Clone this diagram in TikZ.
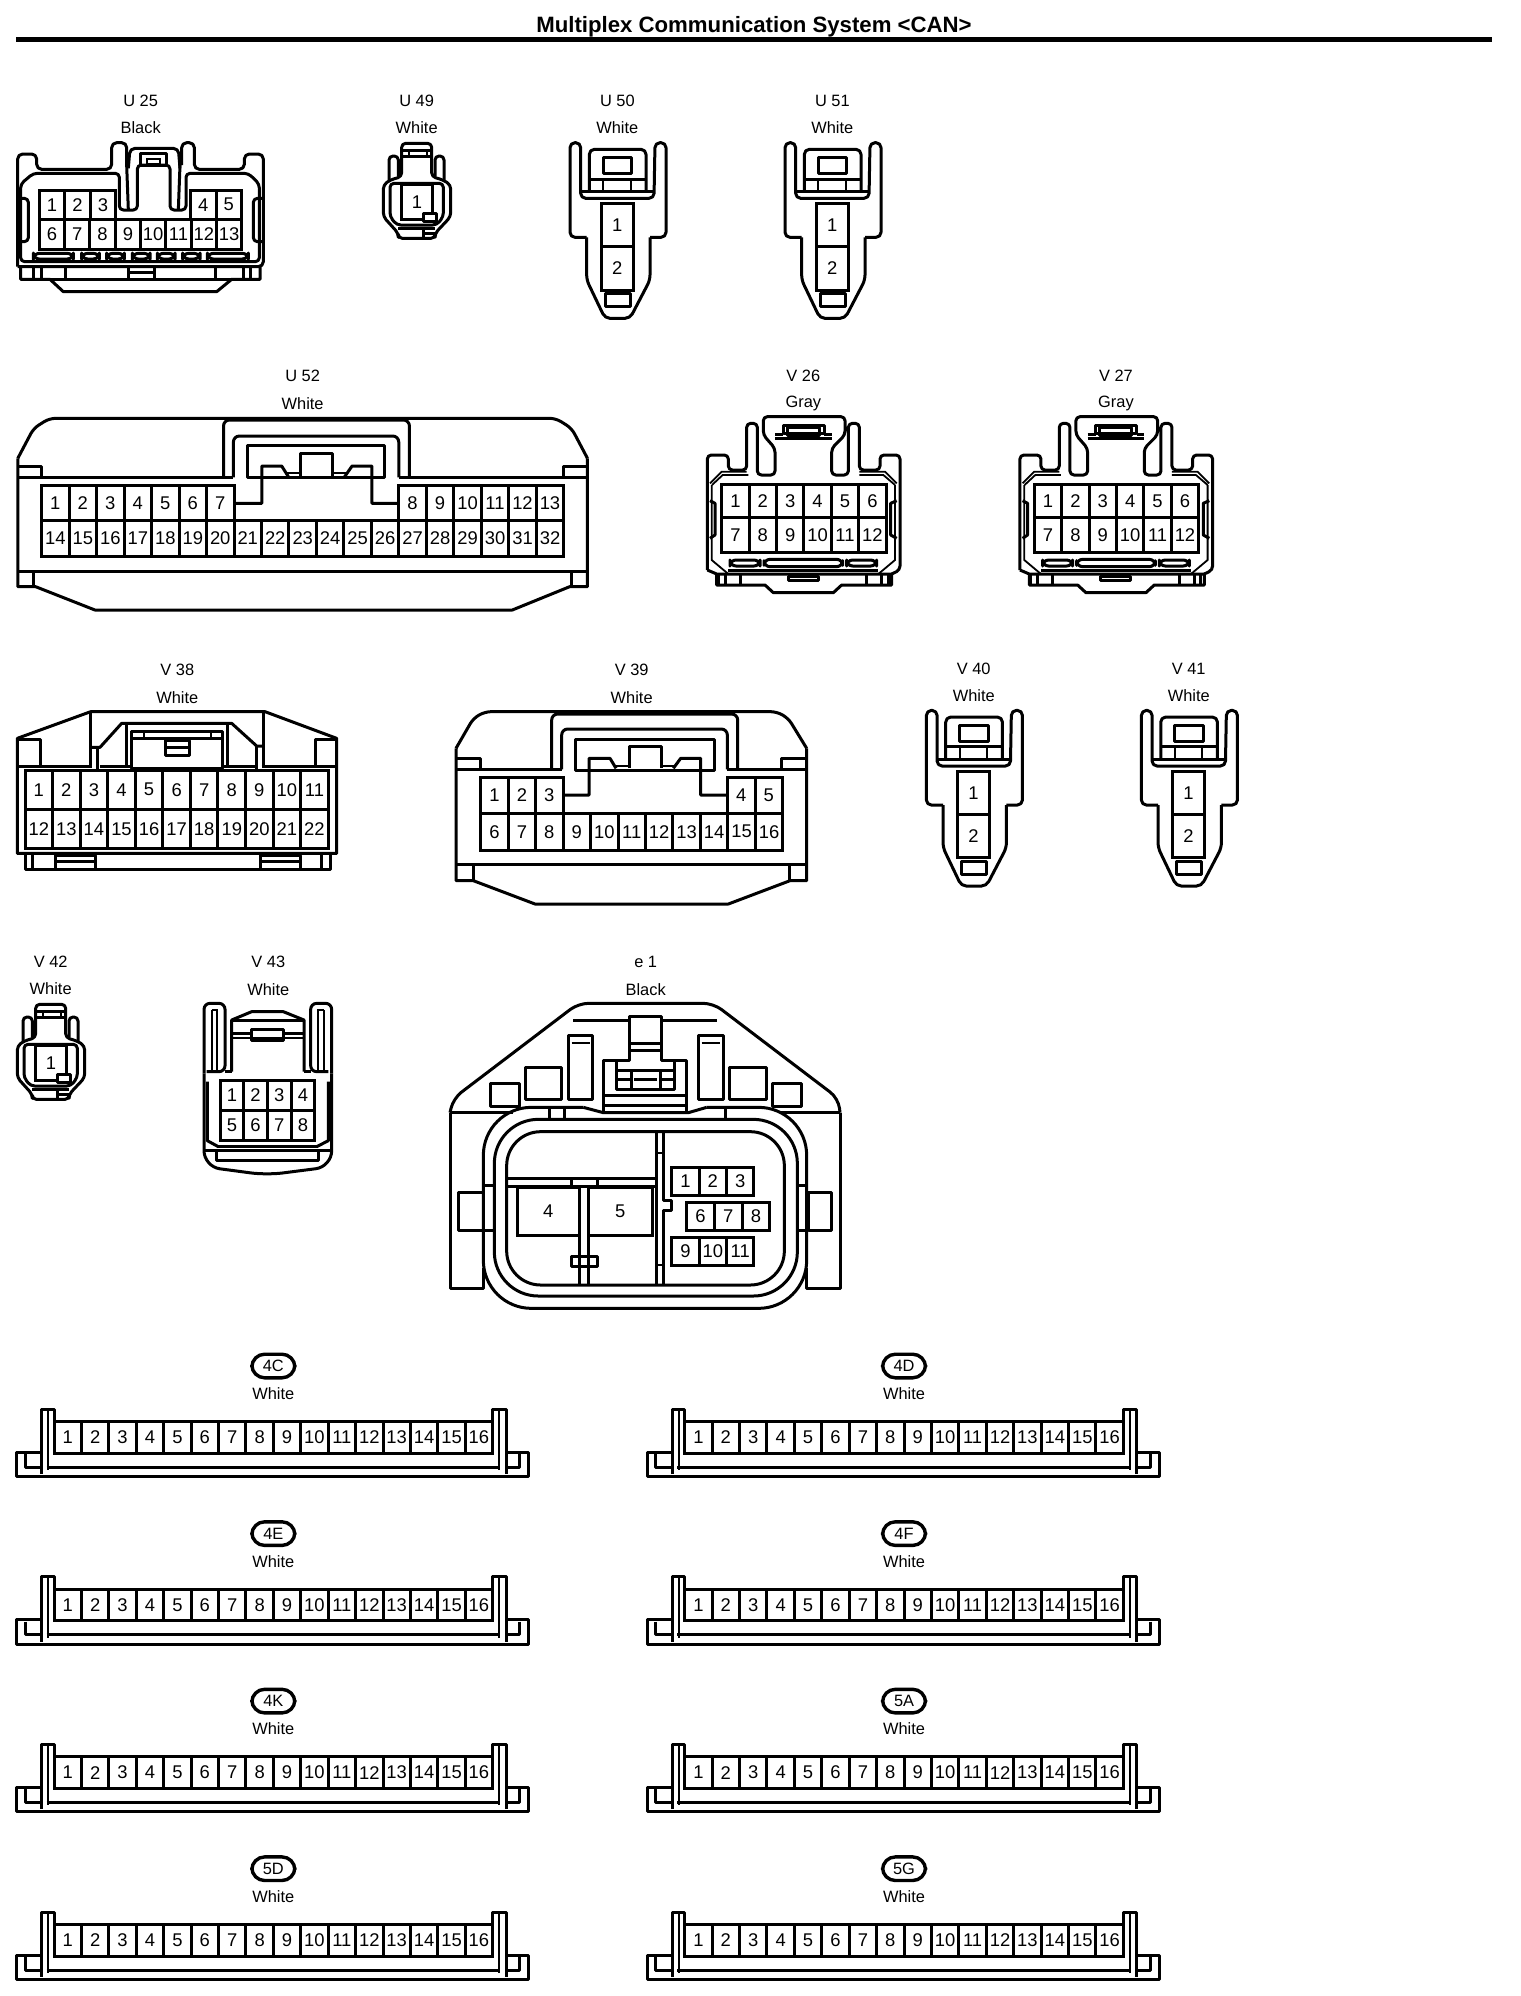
\documentclass[tikz,border=0pt]{standalone}
\usepackage{fontspec}
\setmainfont{Liberation Sans}
\usetikzlibrary{positioning}

\tikzset{
  shell/.style={line width=1.5pt, line join=round},
  fine/.style={line width=.9pt},
  cavity/.style={draw, line width=1.5pt, inner sep=0pt, font=\fontsize{9.2}{10}\selectfont},
  tag/.style={inner sep=0pt, font=\fontsize{8.2}{10}\selectfont},
  pill/.style={draw, line width=1.7pt, inner sep=0pt, rounded corners=6.4pt,
    minimum width=21.5pt, minimum height=11.8pt, font=\fontsize{8.2}{10}\selectfont},
  zoomunit/.code={\def\zoomu{#1}\def\zoomv{#1}\tikzset{x=#1pt,y=-#1pt}},
  zoomwide/.code={\def\zoomu{#1}\tikzset{x=#1pt}}
}

% name, x, y, cell width, cell height, first number, last number
\newcommand{\cavities}[7]{
  \foreach \n [count=\k from 0] in {#6,...,#7}
    \node[cavity, minimum width=#4*\zoomu pt, minimum height=#5*\zoomv pt]
      (#1-\n) at ({#2+#4*\k+#4/2},{#3+#5/2}) {\n};
}
% name, x, y, text, colour
\newcommand{\tags}[5]{
  \node[tag] (#1-id) at (#2,#3) {#4};
  \node[tag, below=13.7pt of #1-id.center, anchor=center] (#1-col) {#5};
}

% one cavity
\newcommand{\connone}[5]{
  \begin{scope}[shift={(#4,#5)},zoomunit=.16667]
    \tags{#1}{1250}{92}{#2}{#3}
    \draw[shell, rounded corners=2pt] (1205,320) -- (1205,220) -- (1295,220) -- (1295,320) -- (1330,330)
      -- (1352,345) -- (1352,440) -- (1305,490) -- (1305,505) -- (1195,505) -- (1195,490) -- (1150,440)
      -- (1150,345) -- (1170,330) -- cycle;
    \draw[shell, rounded corners=2pt] (1167,335) -- (1167,258) -- (1195,258) -- (1195,320);
    \draw[shell, rounded corners=2pt] (1305,320) -- (1305,258) -- (1332,258) -- (1332,335);
    \draw[shell] (1205,240) -- (1295,240) (1205,258) -- (1295,258);
    \draw[fine] (1228,240) -- (1228,258) (1280,240) -- (1280,258);
    \draw[shell, rounded corners=2pt] (1170,340) -- (1330,340) -- (1330,440) -- (1310,465) -- (1190,465)
      -- (1170,440) -- cycle;
    \node[cavity, minimum width=15.3pt, minimum height=17.5pt] (#1-1) at (1251,397) {1};
    \node[draw, shell, fill=white, inner sep=0pt, minimum width=6.6pt, minimum height=3.8pt] (#1-lock)
      at (1290,443) {};
    \draw[shell] (1195,475) -- (1305,475) (1270,475) -- (1270,505) (1270,490) -- (1305,490);
  \end{scope}
}

% two cavities
\newcommand{\conntwo}[5]{
  \begin{scope}[shift={(#4,#5)},zoomunit=.16667]
    \tags{#1}{232}{62}{#2}{#3}
    \draw[shell, rounded corners=2.5pt] (140,472) -- (90,472) -- (90,188) -- (122,188) -- (122,355)
      -- (342,355) -- (345,188) -- (378,188) -- (378,472) -- (330,472);
    \draw[shell, rounded corners=2.5pt] (140,472) -- (140,600) -- (195,715) -- (270,715) -- (330,600) -- (330,472);
    \draw[shell, rounded corners=2.5pt] (148,335) -- (148,208) -- (318,208) -- (318,335);
    \draw[shell] (122,335) -- (342,335) (148,297) -- (318,297);
    \draw[fine] (190,297) -- (190,335) (272,297) -- (272,335);
    \draw[shell] (190,232) rectangle (275,280);
    \cavities{#1}{183}{370}{97}{130}{1}{1}
    \cavities{#1}{183}{500}{97}{130}{2}{2}
    \draw[shell] (195,640) rectangle (270,680);
  \end{scope}
}

% twelve cavities
\newcommand{\conntwelve}[5]{
  \begin{scope}[shift={(#4,#5)},zoomunit=.16667]
    \tags{#1}{310}{18}{#2}{#3}
    \draw[shell, rounded corners=2pt] (22,600) -- (22,255) -- (85,255) -- (85,300) -- (140,300) -- (140,160)
      -- (172,160) -- (172,315) -- (225,315) -- (225,235) -- (190,195) -- (190,140) -- (435,140) -- (435,195)
      -- (395,235) -- (395,315) -- (445,315) -- (445,160) -- (478,160) -- (478,300) -- (540,300) -- (540,255)
      -- (600,255) -- (600,600) -- (575,612);
    \draw[shell] (22,600) -- (50,612) -- (50,645) -- (195,645) -- (220,668) -- (400,668) -- (425,645)
      -- (575,645) -- (575,612) -- (50,612);
    \draw[shell] (225,205) -- (395,205) (225,192) -- (250,192) (372,192) -- (395,192);
    \draw[shell] (250,165) rectangle (372,190);
    \draw[shell] (262,172) rectangle (358,197);
    \draw[fine] (30,340) -- (65,305) -- (140,305) (36,345) -- (68,315) -- (145,315)
      (478,305) -- (555,305) -- (590,340) (478,315) -- (550,315) -- (585,345);
    \draw[fine] (35,345) -- (35,570) -- (85,612) (585,345) -- (585,570) -- (535,612);
    \draw[shell] (30,392) -- (45,400) -- (45,495) -- (30,505) (590,392) -- (572,400) -- (572,495) -- (590,505);
    \cavities{#1}{65}{343}{82.2}{100}{1}{6}
    \cavities{#1}{65}{443}{82.2}{104}{7}{12}
    \draw[shell, rounded corners=3pt] (90,570) rectangle (180,588) (192,568) rectangle (428,590)
      (440,570) rectangle (530,588);
    \draw[shell] (85,600) -- (535,600);
    \draw[shell] (55,612) -- (55,645) (75,612) -- (75,645) (120,612) -- (120,645)
      (500,612) -- (500,645) (545,612) -- (545,645) (565,612) -- (565,645);
    \draw[shell] (265,620) rectangle (355,632);
  \end{scope}
}

% sixteen cavities in a row
\newcommand{\connbar}[4]{
  \begin{scope}[shift={(#3,#4)},zoomunit=.16667]
    \node[pill] (#1-id) at (820,48) {#2};
    \node[tag] (#1-col) at (820,132) {White};
    \draw[shell] (125,307) -- (50,307) -- (50,380) -- (1586,380) -- (1586,307) -- (1518,307);
    \draw[shell] (75,312) -- (75,352) -- (125,352) (1558,312) -- (1558,352) -- (1518,352);
    \draw[shell] (140,352) -- (1500,352);
    \draw[shell] (125,372) -- (125,178) -- (162,178) -- (162,312);
    \draw[shell] (1518,372) -- (1518,178) -- (1478,178) -- (1478,312);
    \draw[fine] (145,178) -- (145,360) (1498,178) -- (1498,360);
    \cavities{#1}{162}{215}{82.25}{95}{1}{16}
  \end{scope}
}

\begin{document}
\begin{tikzpicture}[x=.5pt,y=-.5pt]
  \useasboundingbox (0,0) rectangle (1520,1996);

  % Title
  \node[inner sep=0pt, font=\bfseries\fontsize{11.1}{13}\selectfont] (title) at (754,27)
    {Multiplex Communication System <CAN>};
  \coordinate (ruleL) at (16,40);
  \coordinate (ruleR) at (1492,40);
  \draw[line width=2.5pt] (ruleL) -- (ruleR);

  % U 25
  \begin{scope}[shift={(0,70)},zoomunit=.16667]
    \tags{U25}{422}{92}{U 25}{Black}
    \draw[shell, rounded corners=2.5pt] (53,590) -- (53,252) -- (110,252) -- (110,298) -- (335,298)
      -- (335,218) -- (380,218) -- (380,285);
    \draw[shell, rounded corners=2.5pt] (545,285) -- (545,218) -- (583,218) -- (583,298) -- (733,298)
      -- (733,252) -- (790,252) -- (790,590) -- (53,590);
    \draw[shell, rounded corners=2.5pt] (385,295) -- (390,235) -- (535,235) -- (540,295);
    \draw[shell, rounded corners=2pt] (62,575) -- (62,342) -- (100,310) -- (358,310) -- (358,420) -- (412,420)
      -- (412,285) -- (510,285) -- (510,420) -- (558,420) -- (558,310) -- (745,310) -- (778,342) -- (778,575)
      -- cycle;
    \draw[shell] (380,285) -- (385,420) (540,285) -- (535,420);
    \draw[shell] (420,250) rectangle (500,285);
    \draw[fine] (440,268) rectangle (480,282);
    \draw[shell, rounded corners=2pt] (62,385) -- (85,385) -- (85,515) -- (62,515)
      (790,385) -- (760,385) -- (760,515) -- (790,515);
    \cavities{U25}{118}{360}{76.5}{88}{1}{3}
    \cavities{U25}{571}{360}{77}{88}{4}{5}
    \cavities{U25}{118}{448}{75.9}{90}{6}{13}
    \draw[shell, rounded corners=3pt] (100,550) rectangle (220,567) (245,550) rectangle (298,567)
      (320,550) rectangle (373,567) (397,550) rectangle (450,567) (472,550) rectangle (525,567)
      (548,550) rectangle (600,567) (622,550) rectangle (745,567);
    \draw[shell] (62,590) -- (62,628) -- (150,628) -- (190,665) -- (650,665) -- (695,628) -- (780,628) -- (780,590);
    \draw[shell] (150,628) -- (695,628);
    \draw[shell] (100,590) -- (100,628) (125,590) -- (125,628) (195,590) -- (195,628) (385,590) -- (385,628)
      (462,590) -- (462,628) (645,590) -- (645,628) (730,590) -- (730,628) (750,590) -- (750,628)
      (385,606) -- (462,606);
  \end{scope}

  % small connectors
  \connone{U49}{U 49}{White}{0}{70}
  \conntwo{U50}{U 50}{White}{540}{80}
  \conntwo{U51}{U 51}{White}{755}{80}

  % U 52
  \begin{scope}[shift={(0,360)},zoomunit=.16667,zoomwide=.1978]
    \tags{U52}{765}{48}{U 52}{White}
    \draw[shell, rounded corners=3pt] (45,295) -- (85,205) -- (125,175) -- (1405,175) -- (1445,205) -- (1485,295);
    \draw[shell] (45,295) -- (45,680) -- (90,680) -- (240,750) -- (1295,750) -- (1440,680) -- (1485,680) -- (1485,295);
    \draw[shell] (45,352) -- (590,352) (1008,352) -- (1485,352);
    \draw[shell] (45,318) -- (105,318) -- (105,352) (1485,318) -- (1425,318) -- (1425,352);
    \draw[shell, rounded corners=3pt] (565,352) -- (565,180) -- (1035,180) -- (1035,352);
    \draw[shell, rounded corners=3pt] (590,352) -- (590,228) -- (1008,228) -- (1008,352);
    \draw[shell] (625,257) rectangle (972,352);
    \draw[shell] (590,430) -- (662,430) -- (662,318) -- (712,318) -- (730,352);
    \draw[shell] (760,352) -- (760,280) -- (840,280) -- (840,352);
    \draw[shell] (870,352) -- (890,318) -- (940,318) -- (940,430) -- (1008,430);
    \draw[fine] (725,340) -- (760,340) (840,340) -- (875,340);
    \cavities{U52}{105}{377}{69.5}{105}{1}{7}
    \cavities{U52}{1008}{377}{69.5}{105}{8}{13}
    \cavities{U52}{105}{482}{69.5}{106}{14}{32}
    \draw[shell] (45,635) -- (1485,635) (85,635) -- (85,680) (1445,635) -- (1445,680);
  \end{scope}

  % V 26, V 27
  \conntwelve{V26}{V 26}{Gray}{700}{370}
  \conntwelve{V27}{V 27}{Gray}{1012.6}{370}

  % V 38
  \begin{scope}[shift={(0,660)},zoomunit=.16667]
    \tags{V38}{532}{30}{V 38}{White}
    \draw[shell] (52,235) -- (272,155) -- (795,155) -- (1010,235) -- (1010,580) -- (52,580) -- cycle;
    \draw[shell] (52,238) -- (120,238) -- (120,318) (945,318) -- (945,238) -- (1010,238);
    \draw[shell] (52,318) -- (275,318) (785,318) -- (1010,318);
    \draw[shell] (272,155) -- (272,318) (790,155) -- (790,318);
    \draw[shell] (272,262) -- (300,262) -- (365,190) -- (695,190) -- (770,258) -- (790,258);
    \draw[shell] (292,262) -- (292,330) (770,258) -- (770,330);
    \draw[shell] (300,318) -- (395,318) (668,318) -- (770,318);
    \draw[shell] (378,190) -- (378,318) (682,190) -- (682,318);
    \draw[shell] (395,213) rectangle (668,325);
    \draw[shell] (395,235) -- (668,235);
    \draw[fine] (432,213) -- (432,235) (632,213) -- (632,235);
    \draw[shell] (497,240) rectangle (567,285);
    \draw[shell] (497,262) -- (567,262);
    \cavities{V38}{75}{330}{82.7}{118}{1}{11}
    \cavities{V38}{75}{448}{82.7}{118}{12}{22}
    \draw[shell] (75,580) -- (75,627) -- (990,627) -- (990,580);
    \draw[shell] (98,580) -- (98,627) (965,580) -- (965,627);
    \draw[shell] (165,585) rectangle (285,627) (780,585) rectangle (900,627);
    \draw[shell] (165,605) -- (285,605) (780,605) -- (900,605);
  \end{scope}

  % V 39
  \begin{scope}[shift={(440,660)},zoomunit=.16667]
    \tags{V39}{575}{30}{V 39}{White}
    \draw[shell, rounded corners=3pt] (48,265) -- (100,175) -- (135,155) -- (1010,155) -- (1045,175) -- (1100,265);
    \draw[shell] (48,265) -- (48,662) -- (100,662) -- (285,732) -- (865,732) -- (1050,662) -- (1100,662) -- (1100,265);
    \draw[shell] (48,328) -- (365,328) (862,328) -- (1100,328);
    \draw[shell] (48,295) -- (122,295) -- (122,328) (1100,295) -- (1025,295) -- (1025,328);
    \draw[shell, rounded corners=3pt] (335,328) -- (335,162) -- (893,162) -- (893,328);
    \draw[shell, rounded corners=3pt] (365,328) -- (365,207) -- (862,207) -- (862,328);
    \draw[shell] (407,238) rectangle (822,330);
    \draw[shell] (370,405) -- (447,405) -- (447,295) -- (510,295) -- (528,325);
    \draw[shell] (568,325) -- (568,260) -- (665,260) -- (665,325);
    \draw[shell] (700,325) -- (722,295) -- (782,295) -- (782,405) -- (860,405);
    \draw[fine] (528,318) -- (568,318) (665,318) -- (705,318);
    \cavities{V39}{122}{352}{82.4}{108}{1}{3}
    \cavities{V39}{862}{352}{83}{108}{4}{5}
    \cavities{V39}{122}{460}{82.4}{110}{6}{16}
    \draw[shell] (48,612) -- (1100,612) (100,612) -- (100,662) (1048,612) -- (1048,662);
  \end{scope}

  % V 40, V 41, V 42
  \conntwo{V40}{V 40}{White}{896.4}{647.7}
  \conntwo{V41}{V 41}{White}{1111.4}{647.7}
  \connone{V42}{V 42}{White}{-366}{931}

  % V 43
  \begin{scope}[shift={(0,950)},zoomunit=.16667]
    \tags{V43}{805}{37}{V 43}{White}
    \draw[shell, rounded corners=3pt] (612,370) -- (612,160) -- (675,160) -- (675,365) -- (620,365);
    \draw[shell, rounded corners=3pt] (995,370) -- (995,160) -- (932,160) -- (932,365) -- (985,365);
    \draw[fine] (635,180) -- (652,180) -- (652,365) (635,180) -- (635,365)
      (972,180) -- (955,180) -- (955,365) (972,180) -- (972,365);
    \draw[shell] (695,365) -- (695,210) -- (755,185) -- (850,185) -- (912,210) -- (912,365);
    \draw[shell] (695,210) -- (912,210) (695,250) -- (755,250) (850,250) -- (912,250);
    \draw[fine] (695,265) -- (912,265);
    \draw[shell] (755,237) rectangle (850,270);
    \draw[shell] (675,365) -- (695,365) (912,365) -- (932,365);
    \draw[shell, rounded corners=8pt] (612,370) -- (612,650) -- (800,675) -- (995,650) -- (995,370);
    \draw[shell] (622,395) -- (622,572) -- (655,590) (985,395) -- (985,572) -- (950,590);
    \cavities{V43}{660}{390}{71.2}{90}{1}{4}
    \cavities{V43}{660}{480}{71.2}{92}{5}{8}
    \draw[shell] (655,588) -- (950,588);
    \draw[shell] (612,600) -- (995,600);
    \draw[shell] (650,600) -- (650,632) -- (955,632) -- (955,600);
  \end{scope}

  % e 1
  \begin{scope}[shift={(440,990)},zoomunit=.16667]
    \tags{e1}{617}{-84}{e 1}{Black}
    \draw[shell, rounded corners=5pt] (30,368) -- (40,325) -- (415,40) -- (820,40) -- (1195,325) -- (1200,368);
    \draw[shell] (30,368) -- (30,895) -- (130,895) -- (130,835) (1100,835) -- (1100,895) -- (1200,895) -- (1200,368);
    \draw[shell] (30,368) -- (220,368) (1020,368) -- (1200,368);
    \draw[shell] (400,90) -- (565,90) (665,90) -- (830,90);
    \draw[shell] (490,370) -- (490,210) -- (568,210) -- (568,78) -- (665,78) -- (665,210) -- (740,210) -- (740,370);
    \draw[shell] (568,160) -- (665,160) (568,182) -- (665,182);
    \draw[shell] (530,210) -- (530,298) -- (703,298) -- (703,210);
    \draw[shell] (530,240) -- (703,240) (530,268) -- (575,268) (660,268) -- (703,268) (582,268) -- (650,268);
    \draw[shell] (575,240) -- (575,298) (660,240) -- (660,298);
    \draw[shell] (490,315) -- (740,315) (490,345) -- (740,345);
    \draw[shell] (385,135) rectangle (458,327) (775,135) rectangle (850,327);
    \draw[fine] (395,160) -- (450,160) (785,160) -- (840,160);
    \draw[shell] (255,232) rectangle (365,327) (868,232) rectangle (978,327);
    \draw[shell] (150,280) rectangle (238,350) (997,280) rectangle (1085,350);
    % seal rings
    \draw[shell, rounded corners=24pt] (430,352) -- (130,352) -- (130,955) -- (1100,955) -- (1100,352) -- (800,352);
    \draw[shell] (430,352) -- (490,368) -- (745,368) -- (800,352);
    \draw[shell, rounded corners=22pt] (163,388) rectangle (1072,918);
    \draw[shell, rounded corners=17pt] (200,425) rectangle (1033,885);
    \draw[shell] (328,352) -- (328,388) (372,352) -- (372,388) (857,352) -- (857,388);
    \draw[shell] (55,608) rectangle (130,722) (1105,608) rectangle (1175,722);
    \draw[shell] (130,585) -- (163,585) (130,722) -- (163,722) (1072,585) -- (1100,585) (1072,722) -- (1100,722);
    % inside the ring
    \draw[shell] (200,565) -- (648,565) (200,588) -- (648,588);
    \draw[shell] (395,570) -- (395,588) (472,570) -- (472,588);
    \draw[shell] (648,425) -- (648,885) (670,425) -- (670,632) -- (695,632) -- (695,660) -- (670,660) -- (670,885);
    \draw[fine] (648,490) -- (670,490) (648,825) -- (670,825);
    \node[cavity, minimum width=31pt, minimum height=24pt] (e1-4) at (325,663) {4};
    \node[cavity, minimum width=32pt, minimum height=24pt] (e1-5) at (541,663) {5};
    \draw[shell] (418,735) -- (418,885) (445,735) -- (445,885);
    \draw[shell] (395,800) rectangle (472,828);
    \cavities{e1}{695}{532}{82.3}{83}{1}{3}
    \cavities{e1}{740}{637}{83.3}{83}{6}{8}
    \cavities{e1}{695}{742}{82.3}{85}{9}{11}
  \end{scope}

  % 16 cavity rows
  \foreach \nm/\xx/\yy in {4C/0/1350, 4D/630.7/1350, 4E/0/1517.6, 4F/630.7/1517.6,
                           4K/0/1685.1, 5A/630.7/1685.1, 5D/0/1852.7, 5G/630.7/1852.7} {
    \connbar{\nm}{\nm}{\xx}{\yy}
  }

\end{tikzpicture}
\end{document}
